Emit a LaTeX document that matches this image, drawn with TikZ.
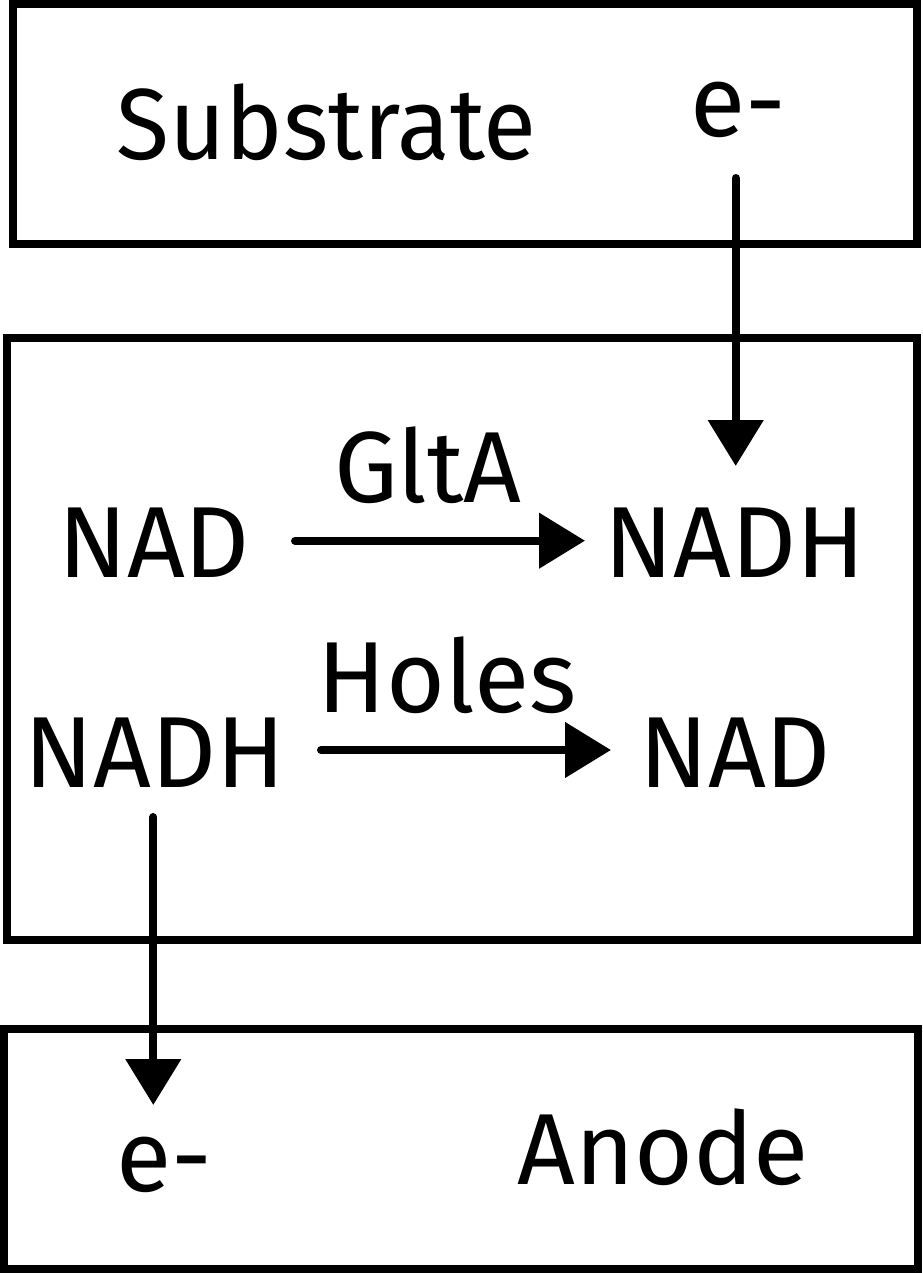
\documentclass[tikz,border=0pt]{standalone}
\usepackage{fontspec}
\setmainfont{Fira Sans}
\usetikzlibrary{arrows.meta}
\begin{document}
\begin{tikzpicture}[x=1pt,y=-1pt,
  box/.style={draw=black,line width=8pt,rectangle,inner sep=0pt},
  lbl/.style={inner sep=0pt,anchor=base,font=\fontsize{101}{120}\selectfont},
  arr/.style={line width=8pt,line cap=round,-{Triangle[length=46pt,width=54pt]}}]
\useasboundingbox (0,0) rectangle (922,1273);
% boxes
\node[box,minimum width=904pt,minimum height=240.5pt] (topbox) at (465,124.25) {};
\node[box,minimum width=910.5pt,minimum height=602.5pt] (midbox) at (461.75,638.75) {};
\node[box,minimum width=914pt,minimum height=240.5pt] (botbox) at (460.5,1148.75) {};
% texts
\node[lbl] (substrate) at (326.5,160) {\scalebox{0.96}[1]{Substrate}};
\node[lbl] (etop) at (738,137) {e-};
\node[lbl] (nad1) at (154,577) {NAD};
\node[lbl] (nadh1) at (735,577) {NADH};
\node[lbl] (glta) at (428,502) {GltA};
\node[lbl] (holes) at (447,712) {Holes};
\node[lbl] (nadh2) at (155,787) {NADH};
\node[lbl] (nad2) at (735,787) {NAD};
\node[lbl] (ebot) at (164,1191) {e-};
\node[lbl] (anode) at (663,1184) {Anode};
% arrow ends
\coordinate (a1s) at (735.7,178);
\coordinate (a1e) at (735.7,466);
\coordinate (a2s) at (295,540.7);
\coordinate (a2e) at (585,540.7);
\coordinate (a3s) at (321,750);
\coordinate (a3e) at (611,750);
\coordinate (a4s) at (153.3,817);
\coordinate (a4e) at (153.3,1105);
\draw[arr] (a1s) -- (a1e);
\draw[arr] (a2s) -- (a2e);
\draw[arr] (a3s) -- (a3e);
\draw[arr] (a4s) -- (a4e);
\end{tikzpicture}
\end{document}
